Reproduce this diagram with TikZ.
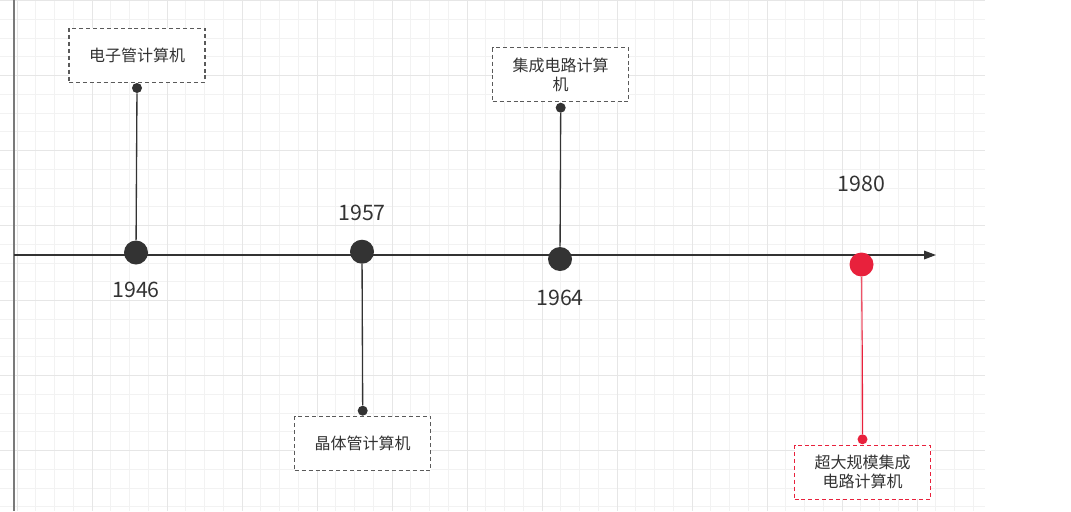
\documentclass[tikz,border=0pt]{standalone}
\usepackage{fontspec}
\newfontfamily\cjk{Noto Sans CJK SC}
\usepackage{tikz}
\usetikzlibrary{arrows.meta, positioning}
\definecolor{cdark}{HTML}{333333}
\definecolor{cbox}{HTML}{5A5A5A}
\definecolor{cred}{HTML}{E8213C}
\definecolor{cpink}{HTML}{EC5468}
\definecolor{cgridmin}{HTML}{F2F2F2}
\definecolor{cgridmaj}{HTML}{E6E6E6}
\definecolor{cedge}{HTML}{7A7A7A}

\begin{document}
\begin{tikzpicture}[
    x=0.75pt, y=-0.75pt,
    dot/.style={circle, fill=#1, inner sep=0pt, minimum size=18pt},
    dot/.default=cdark,
    smalldot/.style={circle, fill=#1, inner sep=0pt, minimum size=7.5pt},
    smalldot/.default=cdark,
    card/.style={draw=#1, dash pattern=on 3pt off 2.2pt, line width=0.9pt, fill=white, minimum width=102pt, minimum height=40.5pt, align=center, font=\cjk\fontsize{12}{14}\selectfont, text=cdark},
    card/.default=cbox,
    year/.style={inner sep=0pt, font=\cjk\fontsize{16}{19}\selectfont, text=cdark},
    stem/.style={line width=1pt, draw=#1},
    stem/.default=cdark,
    arrow/.style={-{Triangle[length=9pt, width=6.5pt]}, line width=0.9pt, cdark}
]

\fill[white] (0,0) rectangle (1071,511);
\useasboundingbox (0,0) rectangle (1071,511);
\foreach \i in {0,...,51} \draw[cgridmin, line width=0.75pt] ({17+18.75*\i},0) -- ({17+18.75*\i},511);
\foreach \j in {0,...,27} \draw[cgridmin, line width=0.75pt] (0,{0.5+18.75*\j}) -- (985,{0.5+18.75*\j});
\foreach \i in {0,...,12} \draw[cgridmaj, line width=0.75pt] ({17+75*\i},0) -- ({17+75*\i},511);
\foreach \j in {0,...,6} \draw[cgridmaj, line width=0.75pt] (0,{0.5+75*\j}) -- (985,{0.5+75*\j});
\draw[cedge, line width=1pt] (14,0) -- (14,511);

\coordinate (start) at (14,255);
\coordinate (end) at (936,255);
\draw[arrow] (start) -- (end);

\node[dot] (d46) at (136,252.5) {};
\node[dot] (d57) at (362,251.7) {};
\node[dot] (d64) at (560,259) {};
\node[dot=cred] (d80) at (861.5,264.5) {};

\node[year, below=13pt of d46] (y46) {1946};
\node[year, above=14pt of d57] (y57) {1957};
\node[year, below=13.5pt of d64] (y64) {1964};
\node[year, above=45pt of d80] (y80) {1980};

\node[smalldot] (s46) at (137,88) {};
\node[smalldot] (s57) at (362.7,410.7) {};
\node[smalldot] (s64) at (560.7,107.7) {};
\node[smalldot=cred] (s80) at (862.5,439.3) {};

\node[card, above=0pt of s46] (c46) {电子管计算机};
\node[card, below=0pt of s57] (c57) {晶体管计算机};
\node[card, above=0pt of s64] (c64) {集成电路计算\\机};
\node[card=cred, below=0pt of s80] (c80) {超大规模集成\\电路计算机};

\draw[stem] (d46) -- (s46);
\draw[stem] (d57) -- (s57);
\draw[stem] (d64) -- (s64);
\coordinate (bend) at (862.2,345);
\draw[stem=cpink] (d80) -- (bend);
\draw[stem=cred] (bend) -- (s80);

\end{tikzpicture}
\end{document}
